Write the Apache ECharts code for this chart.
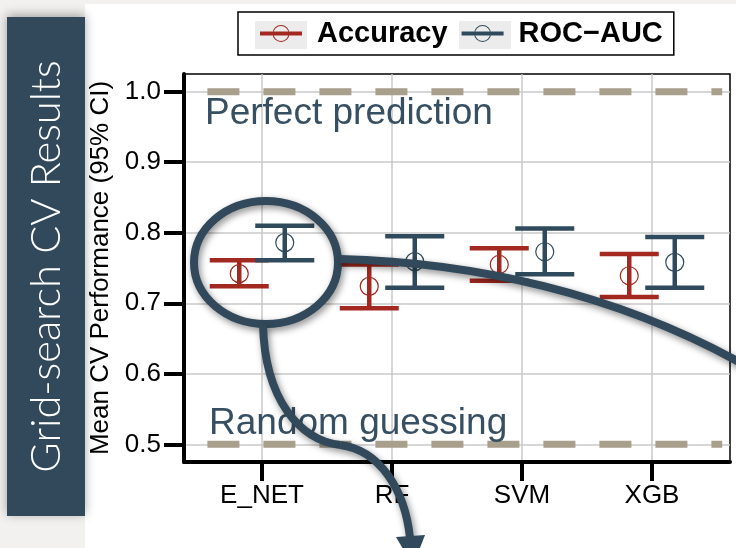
<!DOCTYPE html>
<html><head><meta charset="utf-8">
<script src="https://cdn.jsdelivr.net/npm/echarts@6/dist/echarts.min.js"></script>
<style>html,body{margin:0;padding:0;background:#f2f1ef}#c{width:736px;height:548px}</style>
</head><body><div id="c"></div>
<script>
// ---- data ----
const categories = ['E_NET', 'RF', 'SVM', 'XGB'];
const accMean = [0.742, 0.724, 0.755, 0.739];
const accLow  = [0.724, 0.693, 0.732, 0.709];
const accHigh = [0.761, 0.755, 0.778, 0.770];
const aucMean = [0.786, 0.759, 0.773, 0.758];
const aucLow  = [0.761, 0.722, 0.741, 0.722];
const aucHigh = [0.810, 0.795, 0.806, 0.794];
const yTicks = [0.5, 0.6, 0.7, 0.8, 0.9, 1.0];
const xTicks = [0, 1, 2, 3];
const refLines = [1.0, 0.5];
const refLabels = ['Perfect prediction', 'Random guessing'];
const seriesNames = ['Accuracy', 'ROC\u2212AUC'];

// ---- style ----
const RED = '#a3281f', BLUE = '#2f4a5c', SLATE = '#31495a', TEXTC = '#364f63';
const FONT = 'Liberation Sans';
const DODGE = 0.175, CAP_HALF = 0.227;
const ICON = 'path://M0 6.5 L42 6.5 L42 10.5 L0 10.5 Z M29.5 8.5 A8.5 8.5 0 1 1 12.5 8.5 A8.5 8.5 0 1 1 29.5 8.5 Z M28.6 8.5 A7.6 7.6 0 1 0 13.4 8.5 A7.6 7.6 0 1 0 28.6 8.5 Z';

function rows(m, lo, hi) { return categories.map((c, i) => [i, m[i], lo[i], hi[i]]); }

function makeRender(offset, color) {
  return function (params, api) {
    const x = api.value(0) + offset;
    const m = api.coord([x, api.value(1)]);
    const lo = api.coord([x, api.value(2)]);
    const hi = api.coord([x, api.value(3)]);
    const half = api.size([CAP_HALF, 0])[0];
    const st = { stroke: color, lineWidth: 4.5, fill: null };
    return { type: 'group', children: [
      { type: 'line', shape: { x1: lo[0], y1: lo[1], x2: hi[0], y2: hi[1] }, style: st },
      { type: 'line', shape: { x1: hi[0] - half, y1: hi[1], x2: hi[0] + half, y2: hi[1] }, style: st },
      { type: 'line', shape: { x1: lo[0] - half, y1: lo[1], x2: lo[0] + half, y2: lo[1] }, style: st },
      { type: 'circle', shape: { cx: m[0], cy: m[1], r: 9 }, style: { stroke: color, lineWidth: 1.2, fill: 'rgba(0,0,0,0)' } }
    ]};
  };
}

const chart = echarts.init(document.getElementById('c'), null, { renderer: 'canvas' });
const shadow = { shadowBlur: 7, shadowColor: 'rgba(0,0,0,0.45)', shadowOffsetX: 2, shadowOffsetY: 3 };
function curveStyle() { return Object.assign({ fill: null, stroke: SLATE, lineWidth: 8 }, shadow); }

chart.setOption({
  animation: false,
  backgroundColor: '#f2f1ef',
  color: [RED, BLUE],
  grid: { left: 184, right: 6, top: 74, bottom: 86, show: true, borderColor: '#000', borderWidth: 1.5, backgroundColor: 'transparent' },
  legend: {
    left: 238, top: 12,
    padding: [7, 11, 7, 22],
    itemWidth: 42, itemHeight: 17, itemGap: 14,
    borderColor: '#000', borderWidth: 1.5, backgroundColor: 'transparent',
    textStyle: { fontFamily: FONT, fontSize: 29, fontWeight: 'bold', color: '#000', padding: [0, 0, 0, 10] },
    data: seriesNames.map(n => ({ name: n, icon: ICON }))
  },
  xAxis: {
    type: 'value', min: -0.6, max: 3.6,
    axisLine: { show: true, onZero: false, lineStyle: { color: '#000', width: 4 } },
    axisTick: { show: true, customValues: xTicks, length: 19, lineStyle: { color: '#000', width: 4 } },
    axisLabel: { customValues: xTicks, margin: 21, fontFamily: FONT, fontSize: 26, color: '#000',
      formatter: v => categories[Math.round(v)] },
    splitLine: { show: true, lineStyle: { color: '#c8c8c8', width: 1.5 } }
  },
  yAxis: {
    type: 'value', min: 0.475, max: 1.025,
    name: 'Mean CV Performance (95% CI)', nameLocation: 'middle', nameGap: 61,
    nameTextStyle: { fontFamily: FONT, fontSize: 26, color: '#000' },
    axisLine: { show: true, onZero: false, lineStyle: { color: '#000', width: 4 } },
    axisTick: { show: true, customValues: yTicks, length: 20, lineStyle: { color: '#000', width: 4 } },
    axisLabel: { customValues: yTicks, margin: 23, fontFamily: FONT, fontSize: 26, color: '#000',
      formatter: v => v.toFixed(1) },
    splitLine: { show: true, lineStyle: { color: '#c8c8c8', width: 1.5 } }
  },
  series: [
    { name: 'ref', type: 'custom', silent: true, data: refLines.map(v => [v]),
      encode: { y: 0 },
      renderItem: function (params, api) {
        const a = api.coord([-0.42, api.value(0)]);
        const b = api.coord([3.54, api.value(0)]);
        return { type: 'line', shape: { x1: a[0], y1: a[1], x2: b[0], y2: b[1] },
          style: { stroke: '#a89f8c', lineWidth: 7, lineDash: [32, 24], fill: null } };
      }
    },
    { name: seriesNames[0], type: 'custom', itemStyle: { color: RED }, data: rows(accMean, accLow, accHigh),
      encode: { x: 0, y: [1, 2, 3] }, renderItem: makeRender(-DODGE, RED) },
    { name: seriesNames[1], type: 'custom', itemStyle: { color: BLUE }, data: rows(aucMean, aucLow, aucHigh),
      encode: { x: 0, y: [1, 2, 3] }, renderItem: makeRender(DODGE, BLUE) }
  ],
  graphic: [
    { type: 'rect', z: -10, silent: true, shape: { x: 85, y: 4, width: 651, height: 544 }, style: { fill: '#fff' } },
    { type: 'rect', z: 1, silent: true, shape: { x: 255, y: 21, width: 52, height: 28 }, style: { fill: '#ececec' } },
    { type: 'rect', z: 1, silent: true, shape: { x: 459, y: 21, width: 52, height: 28 }, style: { fill: '#ececec' } },
    { type: 'text', z: 5, silent: true, x: 205, y: 114, style: { text: refLabels[0], fill: TEXTC, font: '37px "Liberation Sans"', align: 'left', verticalAlign: 'middle' } },
    { type: 'text', z: 5, silent: true, x: 209, y: 424, style: { text: refLabels[1], fill: TEXTC, font: '37px "Liberation Sans"', align: 'left', verticalAlign: 'middle' } },
    { type: 'rect', z: 50, silent: true, shape: { x: 7, y: 17, width: 78, height: 499 },
      style: { fill: SLATE, shadowBlur: 10, shadowColor: 'rgba(0,0,0,0.35)', shadowOffsetY: -2 } },
    { type: 'text', z: 51, silent: true, x: 47, y: 266.5, rotation: Math.PI / 2,
      style: { text: 'Grid-search CV Results', fill: '#fff', font: '300 41.5px Lato', align: 'center', verticalAlign: 'middle' } },
    { type: 'ellipse', z: 100, silent: true, shape: { cx: 266, cy: 262.5, rx: 72, ry: 61.5 }, style: curveStyle() },
    { type: 'bezierCurve', z: 100, silent: true,
      shape: { x1: 340, y1: 259, cpx1: 460, cpy1: 262, cpx2: 620, cpy2: 288, x2: 770, y2: 380 }, style: curveStyle() },
    { type: 'bezierCurve', z: 100, silent: true,
      shape: { x1: 263, y1: 325, cpx1: 265, cpy1: 400, cpx2: 300, cpy2: 440, x2: 340, y2: 445 }, style: curveStyle() },
    { type: 'bezierCurve', z: 100, silent: true,
      shape: { x1: 340, y1: 445, cpx1: 380, cpy1: 450, cpx2: 405, cpy2: 490, x2: 410, y2: 538 }, style: curveStyle() },
    { type: 'polygon', z: 100, silent: true,
      shape: { points: [[396, 537], [425, 535], [413, 566]] }, style: { fill: SLATE } }
  ]
});
</script></body></html>
